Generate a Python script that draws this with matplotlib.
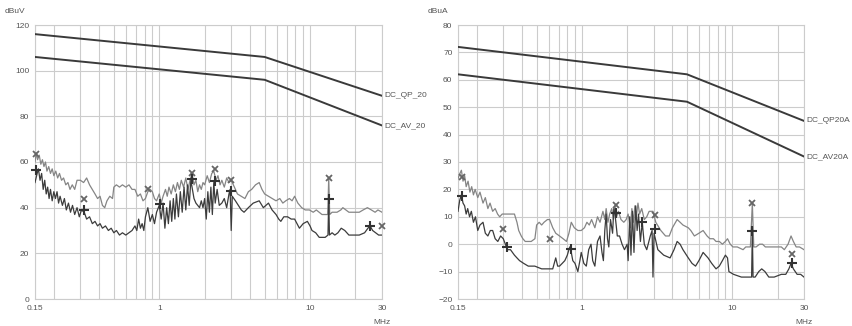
import matplotlib
matplotlib.use("Agg")
import matplotlib.pyplot as plt

plt.rcParams['font.family'] = ['Liberation Sans', 'DejaVu Sans']

# ---- conducted emission, voltage (dBuV) ----
v_limit_freq = [0.15, 5.0, 30.0]
v_limit_qp = [116, 106, 89]
v_limit_av = [106, 96, 76]

v_qp_freq = [0.150, 0.153, 0.156, 0.160, 0.164, 0.168, 0.172, 0.176, 0.180, 0.185, 0.190, 0.195,
             0.200, 0.206, 0.212, 0.218, 0.225, 0.232, 0.240, 0.248, 0.256, 0.265, 0.275, 0.285,
             0.300, 0.315, 0.330, 0.345, 0.360, 0.375, 0.390, 0.405, 0.420, 0.435, 0.450, 0.470,
             0.490, 0.500, 0.520, 0.545, 0.570, 0.600, 0.630, 0.660, 0.690, 0.720, 0.750, 0.780,
             0.810, 0.840, 0.870, 0.900, 0.930, 0.960, 1.000, 1.030, 1.060, 1.100, 1.130, 1.160,
             1.200, 1.240, 1.280, 1.320, 1.360, 1.400, 1.450, 1.500, 1.550, 1.600, 1.650, 1.700,
             1.750, 1.800, 1.850, 1.900, 1.950, 2.000, 2.080, 2.150, 2.230, 2.300, 2.380, 2.450,
             2.530, 2.600, 2.700, 2.800, 2.900, 3.000, 3.150, 3.300, 3.500, 3.700, 3.900, 4.100,
             4.350, 4.600, 4.800, 5.000, 5.300, 5.600, 5.950, 6.300, 6.600, 6.900, 7.300, 7.600,
             7.900, 8.300, 8.800, 9.300, 9.900, 10.50, 11.00, 11.50, 12.00, 12.60, 13.10, 13.30,
             13.50, 14.00, 15.10, 16.00, 16.50, 17.30, 18.10, 19.50, 21.20, 22.50, 24.00, 25.50,
             27.00, 28.20, 30.00]
v_qp_val = [60, 64, 61, 63, 59, 61, 58, 60, 56, 58, 55, 57,
            54, 56, 53, 55, 52, 53, 50, 51, 48, 50, 48, 52,
            52, 51, 53, 50, 48, 46, 44, 45, 41, 40, 43, 45,
            44, 49, 50, 49, 50, 49, 50, 48, 48, 45, 46, 43,
            44, 47, 48, 47, 44, 43, 46, 42, 45, 48, 45, 49,
            46, 50, 47, 51, 48, 52, 49, 53, 48, 52, 55, 50,
            52, 47, 50, 48, 51, 50, 54, 51, 55, 56, 52, 54,
            50, 52, 49, 53, 51, 52, 49, 46, 45, 44, 47, 48,
            50, 51, 48, 46, 45, 44, 43, 44, 42, 43, 44, 43,
            45, 42, 40, 39, 39, 38, 39, 38, 37, 37, 37, 53,
            37, 38, 38, 39, 40, 39, 38, 38, 38, 39, 40, 39,
            38, 39, 38]

v_av_freq = [0.150, 0.155, 0.158, 0.162, 0.166, 0.170, 0.174, 0.178, 0.182, 0.186, 0.190, 0.195,
             0.200, 0.205, 0.210, 0.215, 0.220, 0.228, 0.235, 0.242, 0.250, 0.258, 0.266, 0.275,
             0.285, 0.295, 0.305, 0.318, 0.330, 0.345, 0.360, 0.375, 0.390, 0.405, 0.420, 0.440,
             0.460, 0.480, 0.500, 0.520, 0.545, 0.570, 0.600, 0.630, 0.660, 0.690, 0.710, 0.730,
             0.750, 0.770, 0.790, 0.810, 0.840, 0.870, 0.900, 0.930, 0.960, 1.000, 1.030, 1.060,
             1.090, 1.120, 1.150, 1.180, 1.210, 1.240, 1.270, 1.300, 1.340, 1.380, 1.420, 1.460,
             1.500, 1.540, 1.580, 1.620, 1.660, 1.700, 1.750, 1.800, 1.850, 1.900, 1.950, 2.000,
             2.050, 2.100, 2.150, 2.200, 2.250, 2.300, 2.350, 2.420, 2.500, 2.600, 2.700, 2.800,
             2.900, 2.950, 3.000, 3.050, 3.200, 3.350, 3.500, 3.650, 3.900, 4.200, 4.600, 4.900,
             5.300, 5.600, 5.950, 6.200, 6.400, 6.700, 7.100, 7.500, 7.900, 8.200, 8.500, 9.000,
             9.600, 10.00, 10.30, 10.90, 11.50, 12.00, 12.60, 13.15, 13.30, 13.45, 14.00, 14.60,
             15.30, 16.10, 17.00, 18.10, 19.50, 21.20, 23.00, 24.20, 25.00, 26.00, 27.20, 28.50,
             30.00]
v_av_val = [51, 55, 57, 52, 55, 48, 52, 46, 49, 44, 48, 43,
            47, 44, 47, 42, 45, 41, 44, 39, 42, 38, 41, 37,
            40, 36, 39, 38, 35, 36, 33, 34, 32, 33, 31, 32,
            30, 31, 29, 30, 28, 29, 28, 29, 30, 32, 30, 35,
            31, 33, 30, 36, 40, 34, 37, 33, 38, 41, 35, 42,
            31, 40, 33, 43, 34, 44, 35, 46, 36, 47, 38, 49,
            39, 50, 41, 52, 48, 44, 42, 41, 40, 43, 40, 44,
            35, 47, 38, 49, 37, 51, 42, 48, 41, 42, 44, 40,
            46, 48, 30, 45, 43, 41, 39, 38, 40, 42, 43, 40,
            42, 39, 37, 35, 34, 36, 36, 35, 35, 33, 31, 33,
            34, 32, 30, 29, 27, 27, 27, 28, 44, 28, 29, 28,
            29, 31, 30, 28, 28, 28, 29, 31, 32, 30, 29, 28,
            28]

v_qp_peak_freq = [0.153, 0.318, 0.84, 1.65, 2.33, 3.0, 13.3, 30.0]
v_qp_peak_val = [63.5, 44, 48, 55, 57, 52, 53, 32]
v_av_peak_freq = [0.153, 0.318, 1.01, 1.65, 2.33, 3.0, 13.3, 25.0]
v_av_peak_val = [56.5, 39, 41.5, 52.5, 51.5, 47.5, 44, 32]

# ---- conducted emission, current (dBuA) ----
i_limit_freq = [0.15, 5.0, 30.0]
i_limit_qp = [72, 62, 45]
i_limit_av = [62, 52, 32]

i_qp_freq = [0.150, 0.155, 0.158, 0.162, 0.166, 0.170, 0.175, 0.180, 0.185, 0.190, 0.195, 0.203,
             0.210, 0.220, 0.228, 0.237, 0.245, 0.255, 0.265, 0.275, 0.284, 0.295, 0.310, 0.330,
             0.345, 0.356, 0.370, 0.380, 0.395, 0.405, 0.420, 0.440, 0.460, 0.487, 0.500, 0.520,
             0.540, 0.560, 0.590, 0.610, 0.640, 0.670, 0.710, 0.750, 0.790, 0.820, 0.850, 0.890,
             0.940, 0.990, 1.040, 1.080, 1.120, 1.160, 1.220, 1.270, 1.320, 1.380, 1.420, 1.450,
             1.490, 1.530, 1.580, 1.620, 1.660, 1.700, 1.750, 1.820, 1.900, 1.970, 2.030, 2.100,
             2.150, 2.200, 2.250, 2.300, 2.360, 2.420, 2.500, 2.600, 2.700, 2.800, 2.970, 3.100,
             3.350, 3.600, 3.810, 4.000, 4.300, 4.500, 4.700, 5.100, 5.300, 5.600, 6.000, 6.400,
             6.800, 7.100, 7.500, 7.800, 8.200, 8.600, 9.000, 9.300, 9.700, 10.10, 10.80, 11.80,
             12.30, 13.20, 13.60, 13.90, 14.40, 15.20, 15.90, 16.60, 17.50, 19.00, 21.20, 22.20,
             23.50, 24.60, 25.50, 26.60, 28.00, 30.00]
i_qp_val = [24, 26, 27, 23, 25, 21, 23, 19, 21, 18, 20, 17,
            19, 15, 17, 13, 15, 12, 13, 11, 10, 11, 11, 11,
            11, 11, 8, 5, 3, 2, 1, 1, 1, 2, 7, 8,
            7, 8, 9, 9, 6, 4, 3, 2, 1, 4, 8, 6,
            5, 5, 6, 8, 7, 9, 6, 10, 8, 12, 9, 13,
            8, 11, 13, 9, 14, 10, 12, 9, 8, 9, 11, 6,
            13, 8, 14, 10, 15, 11, 13, 9, 10, 12, 12, 8,
            5, 3, 3, 6, 9, 8, 7, 6, 5, 3, 4, 5,
            3, 2, 2, 1, 1, 0, 1, 2, 0, -1, -1, -2,
            -1, -1, 15, -1, -1, 0, 0, -1, -1, -1, -1, -2,
            0, 3, 1, -1, -1, -2]

i_av_freq = [0.150, 0.154, 0.158, 0.162, 0.166, 0.170, 0.174, 0.179, 0.184, 0.190, 0.196, 0.203,
             0.210, 0.220, 0.228, 0.237, 0.246, 0.255, 0.265, 0.276, 0.288, 0.300, 0.310, 0.320,
             0.335, 0.356, 0.370, 0.385, 0.410, 0.440, 0.486, 0.540, 0.600, 0.640, 0.670, 0.690,
             0.710, 0.740, 0.770, 0.800, 0.830, 0.850, 0.870, 0.900, 0.940, 0.970, 0.990, 1.030,
             1.070, 1.110, 1.150, 1.180, 1.220, 1.270, 1.320, 1.360, 1.390, 1.420, 1.450, 1.480,
             1.510, 1.550, 1.600, 1.630, 1.660, 1.690, 1.720, 1.780, 1.850, 1.920, 2.000, 2.030,
             2.080, 2.120, 2.170, 2.220, 2.280, 2.330, 2.380, 2.450, 2.520, 2.600, 2.700, 2.850,
             2.930, 2.970, 3.020, 3.200, 3.500, 3.860, 4.100, 4.300, 4.500, 4.700, 5.100, 5.400,
             5.700, 6.000, 6.400, 6.900, 7.300, 7.800, 8.200, 8.600, 9.000, 9.300, 9.500, 10.20,
             11.50, 12.50, 13.45, 13.60, 13.75, 14.20, 15.00, 15.70, 16.50, 17.50, 19.00, 21.20,
             22.70, 23.80, 24.60, 25.50, 27.00, 28.50, 30.00]
i_av_val = [12, 16, 18, 15, 14, 11, 13, 10, 12, 8, 10, 5,
            7, 8, 4, 3, 5, 5, 2, 1, 3, 2, 0, -2,
            -2, -4, -5, -6, -7, -8, -8, -9, -9, -9, -5, -8,
            -8, -7, -6, -4, -1, -3, -6, -7, -10, -6, -3, -7,
            -8, -2, 0, -6, -8, 1, 3, -3, -6, 5, 11, 2,
            -1, 9, 4, 13, 11, 7, 3, 3, 0, -2, 0, -6,
            10, -4, 12, -3, 14, 5, 11, 1, 8, 0, -2, 3,
            5, -12, 4, -2, -4, -5, -2, 1, 0, -2, -5, -7,
            -8, -6, -3, -5, -7, -9, -8, -6, -4, -5, -10, -11,
            -12, -12, -12, 5, -12, -12, -10, -9, -10, -12, -12, -11,
            -11, -9, -7, -9, -11, -11, -12]

i_qp_peak_freq = [0.16, 0.30, 0.61, 1.68, 3.07, 13.6, 25.0]
i_qp_peak_val = [24.4, 5.7, 2.0, 14.3, 10.7, 14.9, -3.7]
i_av_peak_freq = [0.16, 0.32, 0.85, 1.68, 2.5, 3.07, 13.6, 25.0]
i_av_peak_val = [17.7, -0.9, -1.6, 11.3, 8.2, 5.5, 4.8, -7.0]

grid_freqs = [0.15, 0.2, 0.3, 0.4, 0.5, 0.6, 0.7, 0.8, 0.9, 1, 2, 3, 4, 5, 6, 7, 8, 9, 10, 20, 30]
labelled = {0.15: "0.15", 1: "1", 10: "10", 30: "30"}

GRID = "#cccccc"
TXT = "#555555"
LIMIT = "#3a3a3a"
QP_COL = "#858585"
AV_COL = "#3c3c3c"


def setup_axes(ax, ylim, ystep, unit):
    ax.set_xscale("log")
    ax.set_xlim(0.15, 30)
    ax.set_ylim(*ylim)
    ax.set_xticks(grid_freqs)
    ax.set_xticklabels([labelled.get(f, "") for f in grid_freqs])
    ax.minorticks_off()
    ax.set_yticks(list(range(ylim[0], ylim[1] + 1, ystep)))
    ax.grid(True, color=GRID, linewidth=0.8)
    ax.set_axisbelow(True)
    ax.tick_params(length=0, labelsize=6, labelcolor=TXT, pad=4)
    for s in ax.spines.values():
        s.set_color(GRID)
        s.set_linewidth(0.8)
    ax.text(-0.058, 1.05, unit, transform=ax.transAxes, fontsize=6, color=TXT,
            ha="center", va="center")
    ax.text(1.0, -0.085, "MHz", transform=ax.transAxes, fontsize=6, color=TXT,
            ha="center", va="center")


def draw(ax, lim_f, lim_qp, lim_av, qp_name, av_name,
         qf, qv, af, av, qpf, qpv, apf, apv):
    ax.plot(qf, qv, color=QP_COL, linewidth=0.9, zorder=3)
    ax.plot(af, av, color=AV_COL, linewidth=0.9, zorder=3)
    ax.plot(lim_f, lim_qp, color=LIMIT, linewidth=1.4, zorder=4)
    ax.plot(lim_f, lim_av, color=LIMIT, linewidth=1.4, zorder=4)
    ax.plot(qpf, qpv, linestyle="none", marker="x", markersize=4.5, mew=1.3,
            color="#666666", zorder=5, clip_on=False)
    ax.plot(apf, apv, linestyle="none", marker="+", markersize=6.5, mew=1.5,
            color="#333333", zorder=5, clip_on=False)
    for name, y in ((qp_name, lim_qp[-1]), (av_name, lim_av[-1])):
        ax.annotate(name, xy=(lim_f[-1], y), xytext=(2, 0), textcoords="offset points",
                    fontsize=6, color=TXT, ha="left", va="center", annotation_clip=False)


fig = plt.figure(figsize=(8.52, 3.26), dpi=100)
ax1 = fig.add_axes([35 / 852, 1 - 299 / 326, 347 / 852, 274 / 326])
ax2 = fig.add_axes([458 / 852, 1 - 299 / 326, 346 / 852, 274 / 326])

setup_axes(ax1, (0, 120), 20, "dBuV")
setup_axes(ax2, (-20, 80), 10, "dBuA")

draw(ax1, v_limit_freq, v_limit_qp, v_limit_av, "DC_QP_20", "DC_AV_20",
     v_qp_freq, v_qp_val, v_av_freq, v_av_val,
     v_qp_peak_freq, v_qp_peak_val, v_av_peak_freq, v_av_peak_val)
draw(ax2, i_limit_freq, i_limit_qp, i_limit_av, "DC_QP20A", "DC_AV20A",
     i_qp_freq, i_qp_val, i_av_freq, i_av_val,
     i_qp_peak_freq, i_qp_peak_val, i_av_peak_freq, i_av_peak_val)

fig.savefig("out.png", dpi=100, facecolor="white")
